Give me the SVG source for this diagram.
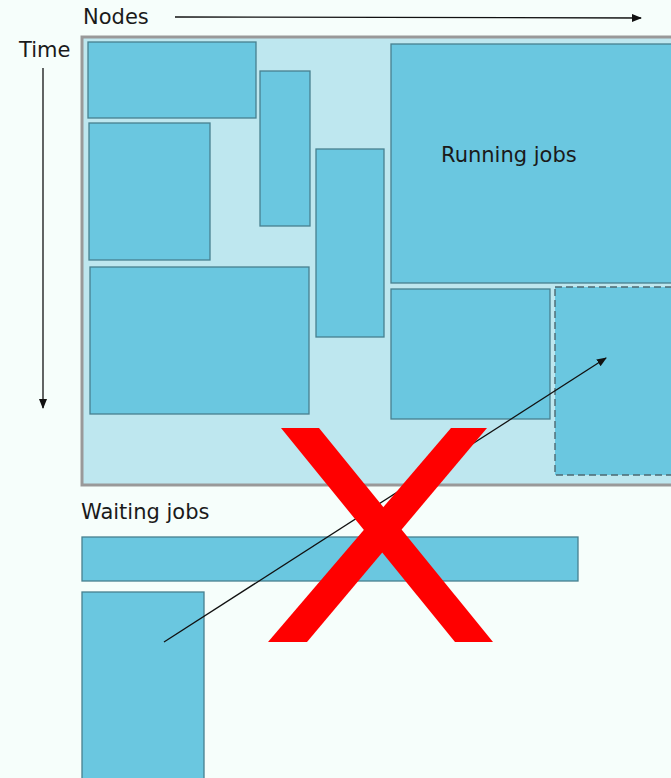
<svg xmlns="http://www.w3.org/2000/svg" width="671" height="778" viewBox="0 0 671 778">
<defs>
<marker id="ah" markerWidth="10" markerHeight="8" refX="9" refY="4" orient="auto" markerUnits="userSpaceOnUse">
<path d="M0,0 L10,4 L0,8 z" fill="#111"/>
</marker>
<style>
.job{fill:#6ac7e0;stroke:#47808f;stroke-width:1.3}
.dash{fill:#6ac7e0;stroke:#4d6a72;stroke-width:1.4;stroke-dasharray:7,4}
.lbl{font-family:"DejaVu Sans",sans-serif;font-size:21px;fill:#1a1a1a}
.ar{stroke:#111;stroke-width:1.3;fill:none}
.x{fill:#ff0000}
</style>
</defs>
<rect x="0" y="0" width="671" height="778" fill="#f6fefb"/>
<g id="cluster">
<rect x="82" y="37" width="600" height="448" fill="#bee7ef" stroke="#999" stroke-width="3"/>
</g>
<g id="job1"><rect class="job" x="88" y="42" width="168" height="76"/></g>
<g id="job2"><rect class="job" x="89" y="123" width="121" height="137"/></g>
<g id="job3"><rect class="job" x="90" y="267" width="219" height="147"/></g>
<g id="job4"><rect class="job" x="260" y="71" width="50" height="155"/></g>
<g id="job5"><rect class="job" x="316" y="149" width="68" height="188"/></g>
<g id="job6"><rect class="job" x="391" y="44" width="290" height="239"/><text class="lbl" x="441" y="162">Running jobs</text></g>
<g id="job7"><rect class="job" x="391" y="289" width="159" height="130"/></g>
<g id="job8"><rect class="dash" x="555" y="287" width="130" height="188"/></g>
<g id="wait1"><rect class="job" x="82" y="537" width="496" height="44"/></g>
<g id="wait2"><rect class="job" x="82" y="592" width="122" height="200"/></g>
<g id="labels">
<text class="lbl" x="83" y="24">Nodes</text>
<text class="lbl" x="19" y="57">Time</text>
<text class="lbl" x="81" y="519">Waiting jobs</text>
</g>
<g id="connectors">
<line class="ar" x1="175" y1="17" x2="641" y2="18" marker-end="url(#ah)"/>
<line class="ar" x1="43" y1="68" x2="43" y2="408" marker-end="url(#ah)"/>
<line class="ar" x1="164" y1="642" x2="606" y2="358" marker-end="url(#ah)"/>
</g>
<g id="cross">
<polygon class="x" points="281,428 319,428 493,642 455,642"/>
<polygon class="x" points="451,428 487,428 307,642 268,642"/>
</g>
</svg>
